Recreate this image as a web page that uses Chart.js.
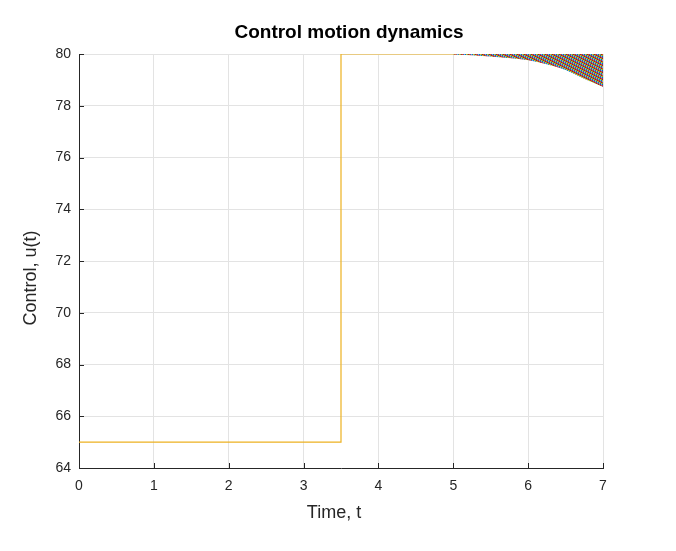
<!DOCTYPE html>
<html>
<head>
<meta charset="utf-8">
<script src="https://cdn.jsdelivr.net/npm/chart.js@4"></script>
<style>
  html, body { margin: 0; padding: 0; background: #fff; }
  #wrap { width: 676px; height: 551px; position: relative; }
</style>
</head>
<body>
<div id="wrap"><canvas id="chart"></canvas></div>
<script>
// step control u(t)
const stepTime = [0, 3.5, 3.5, 7];
const stepControl = [65, 65, 80, 80];

// lower edge of the chattering band (upper edge is 80)
const bandTime = [5, 5.25, 5.5, 5.75, 6, 6.25, 6.5, 6.75, 7];
const bandLower = [80, 79.97, 79.92, 79.86, 79.78, 79.62, 79.4, 79.06, 78.75];

const xTicks = [0, 1, 2, 3, 4, 5, 6, 7];
const yTicks = [64, 66, 68, 70, 72, 74, 76, 78, 80];

const matlabColors = ['#0072BD', '#D95319', '#EDB120', '#7E2F8E', '#77AC30', '#4DBEEE', '#A2142F'];
const ink = '#262626';
const font = '"Liberation Sans", Arial, sans-serif';

// multicoloured texture for the band
const pc = document.createElement('canvas');
pc.width = 14; pc.height = 14;
const pctx = pc.getContext('2d');
for (let x = 0; x < 14; x++) {
    for (let y = 0; y < 14; y++) {
        pctx.fillStyle = matlabColors[(x * 2 + y * 3) % 7];
        pctx.fillRect(x, y, 1, 1);
    }
}
const bandPattern = pctx.createPattern(pc, 'repeat');

const toPoints = (xs, ys) => xs.map((x, i) => ({x: x, y: ys[i]}));

const decor = {
    id: 'decor',
    afterDraw(chart) {
        const ctx = chart.ctx, xs = chart.scales.x, ys = chart.scales.y;
        ctx.save();
        // inward tick marks
        ctx.strokeStyle = ink;
        ctx.lineWidth = 1;
        ctx.beginPath();
        xTicks.forEach(t => {
            const px = Math.round(xs.getPixelForValue(t)) + 0.5;
            ctx.moveTo(px, ys.bottom);
            ctx.lineTo(px, ys.bottom - 5);
        });
        yTicks.forEach(t => {
            const py = Math.round(ys.getPixelForValue(t)) + 0.5;
            ctx.moveTo(xs.left, py);
            ctx.lineTo(xs.left + 5, py);
        });
        ctx.stroke();
        // texts
        ctx.fillStyle = '#000';
        ctx.textAlign = 'center';
        ctx.textBaseline = 'middle';
        ctx.font = 'bold 19px ' + font;
        ctx.fillText('Control motion dynamics', 349, 33);
        ctx.fillStyle = ink;
        ctx.font = '18px ' + font;
        ctx.fillText('Time, t', 334, 513);
        ctx.translate(31, 278);
        ctx.rotate(-Math.PI / 2);
        ctx.fillText('Control, u(t)', 0, 0);
        ctx.restore();
    }
};

new Chart(document.getElementById('chart'), {
    type: 'line',
    data: {
        datasets: [{
            label: 'chattering',
            data: toPoints(bandTime, bandLower),
            borderColor: bandPattern,
            backgroundColor: bandPattern,
            borderWidth: 1,
            pointRadius: 0,
            cubicInterpolationMode: 'monotone',
            fill: {value: 80}
        }, {
            label: 'u(t)',
            data: toPoints(stepTime, stepControl),
            borderColor: '#EDB120',
            borderWidth: 1.2,
            pointRadius: 0,
            tension: 0,
            fill: false
        }]
    },
    options: {
        responsive: true,
        maintainAspectRatio: false,
        devicePixelRatio: 1,
        animation: false,
        layout: { padding: { top: 54, right: 73, left: 0, bottom: 0 } },
        plugins: { legend: { display: false }, title: { display: false }, tooltip: { enabled: false } },
        scales: {
            x: {
                type: 'linear',
                min: 0, max: 7,
                afterFit: s => { s.height = 83; },
                afterBuildTicks: s => { s.ticks = xTicks.map(v => ({value: v})); },
                ticks: { color: ink, font: { family: font, size: 14 }, padding: 10, maxRotation: 0 },
                grid: { color: '#e3e3e3', drawTicks: false },
                border: { color: ink, width: 1 }
            },
            y: {
                min: 64, max: 80,
                afterFit: s => { s.width = 79; },
                afterBuildTicks: s => { s.ticks = yTicks.map(v => ({value: v})); },
                ticks: { color: ink, font: { family: font, size: 14 }, padding: 8 },
                grid: { color: '#e3e3e3', drawTicks: false },
                border: { color: ink, width: 1 }
            }
        }
    },
    plugins: [decor]
});
</script>
</body>
</html>
